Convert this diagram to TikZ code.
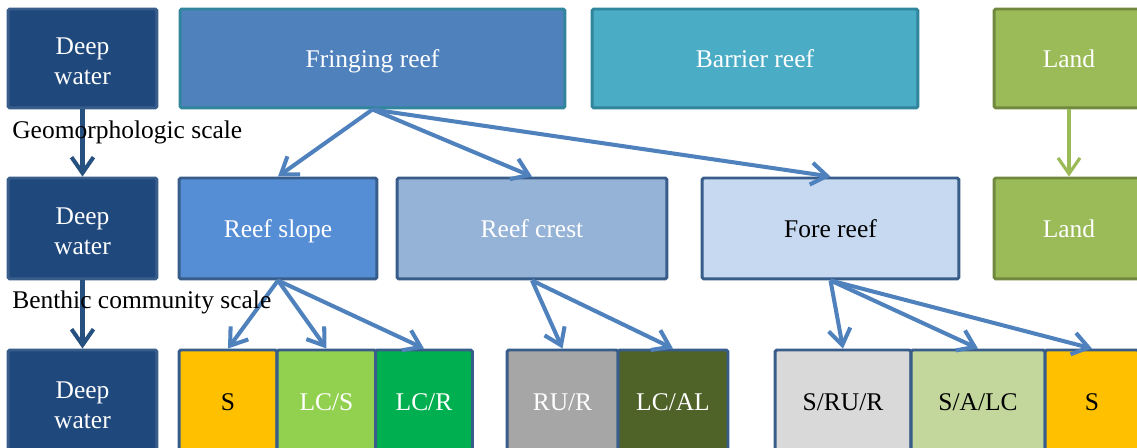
\documentclass[tikz,border=0pt]{standalone}
\usepackage{fontspec}
\setmainfont{Liberation Serif}
\usepackage{tikz}
\usetikzlibrary{arrows.meta}
\definecolor{deepfill}{HTML}{1F497D}
\definecolor{deepline}{HTML}{385D8A}
\definecolor{fringefill}{HTML}{4F81BD}
\definecolor{fringeline}{HTML}{31859C}
\definecolor{barrierfill}{HTML}{4BACC6}
\definecolor{slopefill}{HTML}{558ED5}
\definecolor{crestfill}{HTML}{95B3D7}
\definecolor{forefill}{HTML}{C6D9F1}
\definecolor{landfill}{HTML}{9BBB59}
\definecolor{landline}{HTML}{71893F}
\definecolor{sandfill}{HTML}{FFC000}
\definecolor{lcsfill}{HTML}{92D050}
\definecolor{lcrfill}{HTML}{00B050}
\definecolor{rurfill}{HTML}{A6A6A6}
\definecolor{lcalfill}{HTML}{4F6228}
\definecolor{srurfill}{HTML}{D9D9D9}
\definecolor{salcfill}{HTML}{C3D69B}
\definecolor{arrowblue}{HTML}{4F81BD}
\definecolor{arrowdeep}{HTML}{25507F}
\tikzset{
  box/.style={
    draw=deepline,
    line width=1.7pt,
    rounded corners=1pt,
    inner sep=0pt,
    text=white,
    text depth=0pt,
    align=center,
    font=\fontsize{14.5}{17}\selectfont},
  deepbox/.style={
    box,
    fill=deepfill,
    text height=30pt,
    minimum width=2.98cm},
  flow/.style={
    -{Straight Barb[length=9pt,width=12.5pt]},
    line width=2.3pt,
    color=arrowblue}
  }
\begin{document}
\begin{tikzpicture}[x=0.02cm, y=-0.02cm]
    \clip (0,0) rectangle (1137,448);
    % geomorphologic scale
    \node[deepbox, minimum height=1.98cm] (deepA) at (82.5,58.5) {Deep\\water};
    \node[box, fill=fringefill, draw=fringeline, minimum width=7.7cm, minimum height=1.98cm] (fringe) at (372.5,58.5) {Fringing reef};
    \node[box, fill=barrierfill, draw=fringeline, minimum width=6.52cm, minimum height=1.98cm] (barrier) at (755,58.5) {Barrier reef};
    \node[box, fill=landfill, draw=landline, minimum width=3cm, minimum height=1.98cm] (landA) at (1069,58.5) {Land};
    % reef zones
    \node[deepbox, minimum height=2.02cm] (deepB) at (82.5,228.5) {Deep\\water};
    \node[box, fill=slopefill, minimum width=3.96cm, minimum height=2.02cm] (slope) at (278,228.5) {Reef slope};
    \node[box, fill=crestfill, minimum width=5.4cm, minimum height=2.02cm] (crest) at (532,228.5) {Reef crest};
    \node[box, fill=forefill, text=black, minimum width=5.14cm, minimum height=2.02cm] (fore) at (830.5,228.5) {Fore reef};
    \node[box, fill=landfill, draw=landline, minimum width=3cm, minimum height=2.02cm] (landB) at (1069,228.5) {Land};
    % benthic community scale
    \node[deepbox, minimum height=2.1cm] (deepC) at (82.5,402.5) {Deep\\water};
    \node[box, fill=sandfill, text=black, minimum width=1.96cm, minimum height=2.1cm] (sA) at (228,402.5) {S};
    \node[box, fill=lcsfill, minimum width=1.98cm, minimum height=2.1cm] (lcs) at (326.5,402.5) {LC/S};
    \node[box, fill=lcrfill, minimum width=1.94cm, minimum height=2.1cm] (lcr) at (424,402.5) {LC/R};
    \node[box, fill=rurfill, minimum width=2.22cm, minimum height=2.1cm] (rur) at (562.5,402.5) {RU/R};
    \node[box, fill=lcalfill, minimum width=2.2cm, minimum height=2.1cm] (lcal) at (673,402.5) {LC/AL};
    \node[box, fill=srurfill, text=black, minimum width=2.72cm, minimum height=2.1cm] (srur) at (843,402.5) {S/RU/R};
    \node[box, fill=salcfill, text=black, minimum width=2.68cm, minimum height=2.1cm] (salc) at (978,402.5) {S/A/LC};
    \node[box, fill=sandfill, text=black, minimum width=1.88cm, minimum height=2.1cm] (sB) at (1092,402.5) {S};
    % links
    \path [flow]
    (fringe.south) edge (slope.north)
    (fringe.south) edge (crest.north)
    (fringe.south) edge (fore.north)
    (slope.south) edge (sA.north)
    (slope.south) edge (lcs.north)
    (slope.south) edge (lcr.north)
    (crest.south) edge (rur.north)
    (crest.south) edge (lcal.north)
    (fore.south) edge (srur.north)
    (fore.south) edge (salc.north)
    (fore.south) edge (sB.north);
    \path [flow, color=arrowdeep]
    (deepA.south) edge (deepB.north)
    (deepB.south) edge (deepC.north);
    \draw [flow, color=landfill, line width=1.8pt] (landA.south) -- (landB.north);
    \node[anchor=base west, inner sep=0pt, font=\fontsize{14.5}{17}\selectfont] (geo) at (12,139) {Geomorphologic scale};
    \node[anchor=base west, inner sep=0pt, font=\fontsize{14.5}{17}\selectfont] (benthic) at (12,309) {Benthic community scale};
\end{tikzpicture}
\end{document}
